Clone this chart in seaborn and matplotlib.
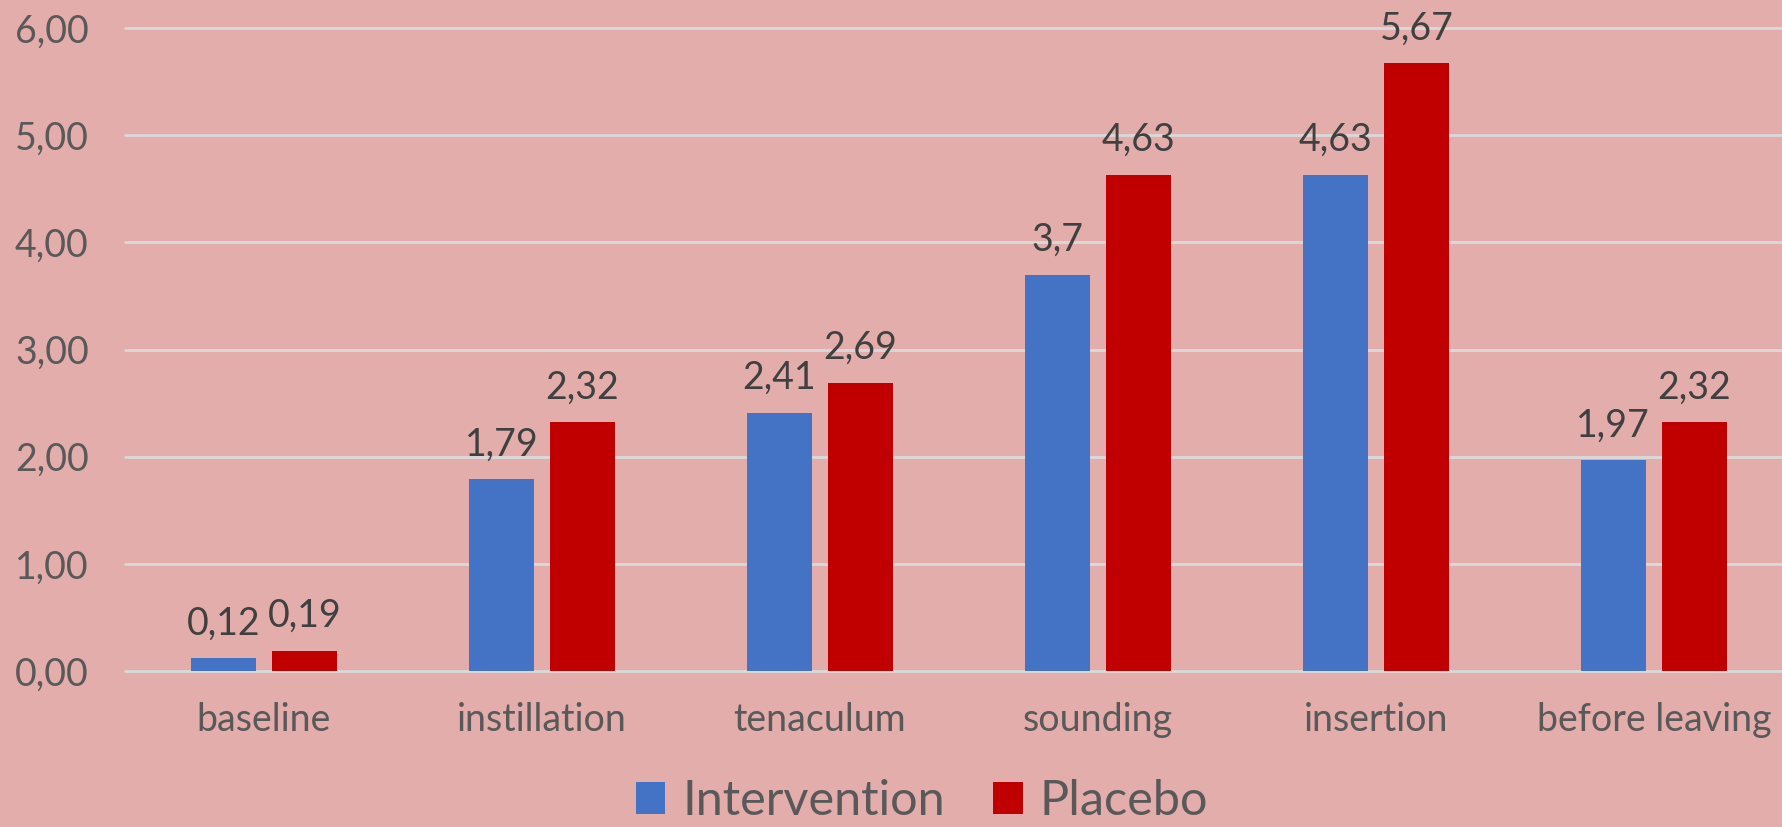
import matplotlib
matplotlib.use("Agg")
import matplotlib.pyplot as plt
import seaborn as sns
import pandas as pd
from matplotlib.ticker import FuncFormatter

categories = ["baseline", "instillation", "tenaculum", "sounding", "insertion", "before leaving"]
intervention = [0.12, 1.79, 2.41, 3.7, 4.63, 1.97]
placebo = [0.19, 2.32, 2.69, 4.63, 5.67, 2.32]
series_names = ["Intervention", "Placebo"]
colors = ["#4472C4", "#C00000"]
yticks = [0, 1, 2, 3, 4, 5, 6]

df = pd.DataFrame({
    "category": categories * 2,
    "group": [series_names[0]] * len(categories) + [series_names[1]] * len(categories),
    "value": intervention + placebo,
})

sns.set_theme(style="white")
plt.rcParams["font.family"] = ["Lato", "DejaVu Sans"]

bg = "#E3ADAB"
fig = plt.figure(figsize=(17.82, 8.27), dpi=100, facecolor=bg)
ax = fig.add_axes([0.0701, 0.1886, 0.936, 0.7775])
ax.set_facecolor(bg)

sns.barplot(data=df, x="category", y="value", hue="group", order=categories,
            hue_order=series_names, palette=colors, saturation=1,
            width=0.583, gap=0.197, ax=ax, legend=True, zorder=3,
            linewidth=0)

for cont in ax.containers:
    labels = [f"{v:g}".replace(".", ",") for v in cont.datavalues]
    ax.bar_label(cont, labels=labels, padding=12, fontsize=27, color="#404040")

ax.set_ylim(0, 6)
ax.set_xlim(-0.5, 5.5)
ax.set_yticks(yticks)
ax.yaxis.set_major_formatter(FuncFormatter(lambda v, p: f"{v:.2f}".replace(".", ",")))
ax.grid(axis="y", color="#D9D9D9", linewidth=2.0, zorder=0)
for gl in ax.get_ygridlines():
    gl.set_clip_on(False)
for s in ax.spines.values():
    s.set_visible(False)
ax.tick_params(axis="y", length=0, pad=26, labelsize=27, labelcolor="#595959")
ax.tick_params(axis="x", length=0, pad=22, labelsize=27, labelcolor="#595959")
ax.set_xlabel("")
ax.set_ylabel("")

handles, lbls = ax.get_legend_handles_labels()
ax.get_legend().remove()
fig.legend(handles, lbls, loc="center", bbox_to_anchor=(922 / 1782, 26 / 827),
           ncol=2, frameon=False, fontsize=35, labelcolor="#595959",
           handlelength=0.6, handleheight=0.65, handletextpad=0.35,
           columnspacing=1.0, borderpad=0)

fig.savefig("out.png", dpi=100, facecolor=bg)
